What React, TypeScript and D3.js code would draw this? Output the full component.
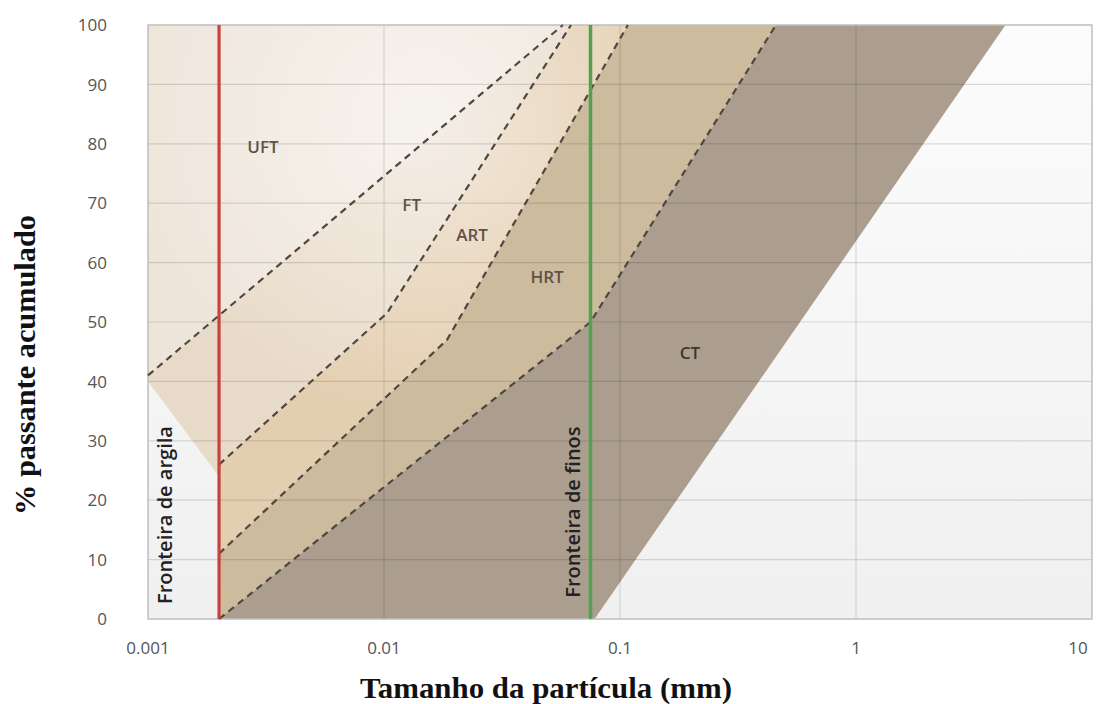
import * as d3 from 'd3';

// x axis: particle size (mm), log scale
const sizeTicks = [0.001, 0.01, 0.1, 1, 10];
const sizeTickLabels = ['0.001', '0.01', '0.1', '1', '10'];
// y axis: cumulative % passing
const passTicks = [0, 10, 20, 30, 40, 50, 60, 70, 80, 90, 100];

// vertical boundaries (mm)
const clayBoundary = 0.002;
const finesBoundary = 0.075;

// dashed class limits, [size mm, % passing]
const limitUftFt = [[0.001, 41], [0.0573, 100]];
const limitFtArt = [[0.002, 26], [0.0103, 51.5], [0.062, 100]];
const limitArtHrt = [[0.002, 11], [0.0185, 47], [0.108, 100]];
const limitHrtCt = [[0.002, 0], [0.075, 50], [0.458, 100]];
// coarse side of the envelope (solid edge)
const limitCtCoarse = [[0.078, 0], [4.3, 100]];
// lower-left edge of the FT band, left of the clay boundary
const leftEdge = [[0.001, 40], [0.002, 24]];

const regionNames = ['UFT', 'FT', 'ART', 'HRT', 'CT'];
const regionColors = ['#eee5da', '#e8dac8', '#e4ceb0', '#cdbb9e', '#ab9e8e'];
const labelSizes = [0.00307, 0.0131, 0.0236, 0.0491, 0.198];
const labelPass = [79.5, 69.7, 64.6, 57.6, 44.8];

const rev = (a: number[][]) => [...a].reverse();

const regions = [
  [[0.001, 100], ...rev(limitUftFt)],
  [...limitUftFt, ...rev(limitFtArt), ...rev(leftEdge)],
  [...limitFtArt, ...rev(limitArtHrt)],
  [...limitArtHrt, ...rev(limitHrtCt)],
  [...limitHrtCt, ...rev(limitCtCoarse)],
];

const W = 1097;
const H = 704;
const left = 148;
const right = 1092;
const top = 25;
const bottom = 619;

export default function App() {
  const x = d3.scaleLog().domain([0.001, 10]).range([left, right]);
  const y = d3.scaleLinear().domain([0, 100]).range([bottom, top]);
  const line = d3
    .line<number[]>()
    .x((d) => x(d[0]))
    .y((d) => y(d[1]));

  const sans = "'Open Sans', 'Liberation Sans', sans-serif";
  const serif = "'Liberation Serif', 'Times New Roman', serif";

  return (
    <svg
      width={W}
      height={H}
      style={{ position: 'absolute', left: 0, top: 0, background: '#fff' }}
    >
      <defs>
        <linearGradient id="bg" x1="0" y1="0" x2="0" y2="1">
          <stop offset="0" stopColor="#fcfcfc" />
          <stop offset="1" stopColor="#f0f0f0" />
        </linearGradient>
        <radialGradient id="glow" cx="420" cy="120" r="300" gradientUnits="userSpaceOnUse">
          <stop offset="0" stopColor="#ffffff" stopOpacity={0.55} />
          <stop offset="1" stopColor="#ffffff" stopOpacity={0} />
        </radialGradient>
        <clipPath id="plot">
          <rect x={left} y={top} width={right - left} height={bottom - top} />
        </clipPath>
      </defs>

      <rect x={left} y={top} width={right - left} height={bottom - top} fill="url(#bg)" />

      <g clipPath="url(#plot)">
        {regions.map((r, i) => (
          <path key={regionNames[i]} d={line(r) + 'Z'} fill={regionColors[i]} />
        ))}
        <path d={line(regions[0]) + 'Z'} fill="url(#glow)" />
        <path d={line(regions[1]) + 'Z'} fill="url(#glow)" />
        <path d={line(regions[2]) + 'Z'} fill="url(#glow)" />
      </g>

      {/* grid */}
      {passTicks.map((t) => (
        <line
          key={'h' + t}
          x1={left}
          x2={right}
          y1={y(t)}
          y2={y(t)}
          stroke="#000"
          strokeOpacity={0.13}
          strokeWidth={1.2}
        />
      ))}
      {sizeTicks.map((t) => (
        <line
          key={'v' + t}
          x1={x(t)}
          x2={x(t)}
          y1={top}
          y2={bottom}
          stroke="#000"
          strokeOpacity={0.12}
          strokeWidth={1.2}
        />
      ))}
      <rect
        x={left}
        y={top}
        width={right - left}
        height={bottom - top}
        fill="none"
        stroke="#c4c4c4"
        strokeWidth={1.5}
      />

      {/* dashed class limits */}
      {[limitUftFt, limitFtArt, limitArtHrt, limitHrtCt].map((l, i) => (
        <path
          key={'l' + i}
          d={line(l) ?? ''}
          fill="none"
          stroke="#51473e"
          strokeWidth={2.2}
          strokeDasharray="7 5"
        />
      ))}

      {/* boundaries */}
      <line
        x1={x(clayBoundary)}
        x2={x(clayBoundary)}
        y1={y(0)}
        y2={y(100)}
        stroke="#c7423e"
        strokeWidth={3.2}
      />
      <line
        x1={x(finesBoundary)}
        x2={x(finesBoundary)}
        y1={y(0)}
        y2={y(100)}
        stroke="#4fa24f"
        strokeWidth={3.5}
      />

      {/* region labels */}
      {regionNames.map((n, i) => (
        <text
          key={'t' + n}
          x={x(labelSizes[i])}
          y={y(labelPass[i])}
          dy="0.36em"
          textAnchor="middle"
          fontFamily={sans}
          fontSize={17}
          fontWeight={600}
          fill={i === 4 ? '#3f362e' : '#5e5247'}
        >
          {n}
        </text>
      ))}

      <text
        transform={`translate(172,${y(17.5)}) rotate(-90)`}
        textAnchor="middle"
        fontFamily={sans}
        fontSize={20}
        fontWeight={600}
        fill="#222"
      >
        Fronteira de argila
      </text>
      <text
        transform={`translate(580,${y(18)}) rotate(-90)`}
        textAnchor="middle"
        fontFamily={sans}
        fontSize={20}
        fontWeight={600}
        fill="#222"
      >
        Fronteira de finos
      </text>

      {/* axes tick labels */}
      {passTicks.map((t) => (
        <text
          key={'yl' + t}
          x={107}
          y={y(t)}
          dy="0.36em"
          textAnchor="end"
          fontFamily={sans}
          fontSize={17}
          fill="#555"
        >
          {t}
        </text>
      ))}
      {sizeTicks.map((t, i) => (
        <text
          key={'xl' + t}
          x={i === sizeTicks.length - 1 ? x(t) - 14 : x(t)}
          y={654}
          textAnchor="middle"
          fontFamily={sans}
          fontSize={17}
          fill="#555"
        >
          {sizeTickLabels[i]}
        </text>
      ))}

      {/* axis titles */}
      <text
        transform={`translate(35,365) rotate(-90)`}
        textAnchor="middle"
        fontFamily={serif}
        fontSize={29}
        fontWeight="bold"
        fill="#111"
        textLength={300}
        lengthAdjust="spacingAndGlyphs"
      >
        % passante acumulado
      </text>
      <text
        x={546}
        y={698}
        textAnchor="middle"
        fontFamily={serif}
        fontSize={29}
        fontWeight="bold"
        fill="#111"
        textLength={372}
        lengthAdjust="spacingAndGlyphs"
      >
        Tamanho da partícula (mm)
      </text>
    </svg>
  );
}
